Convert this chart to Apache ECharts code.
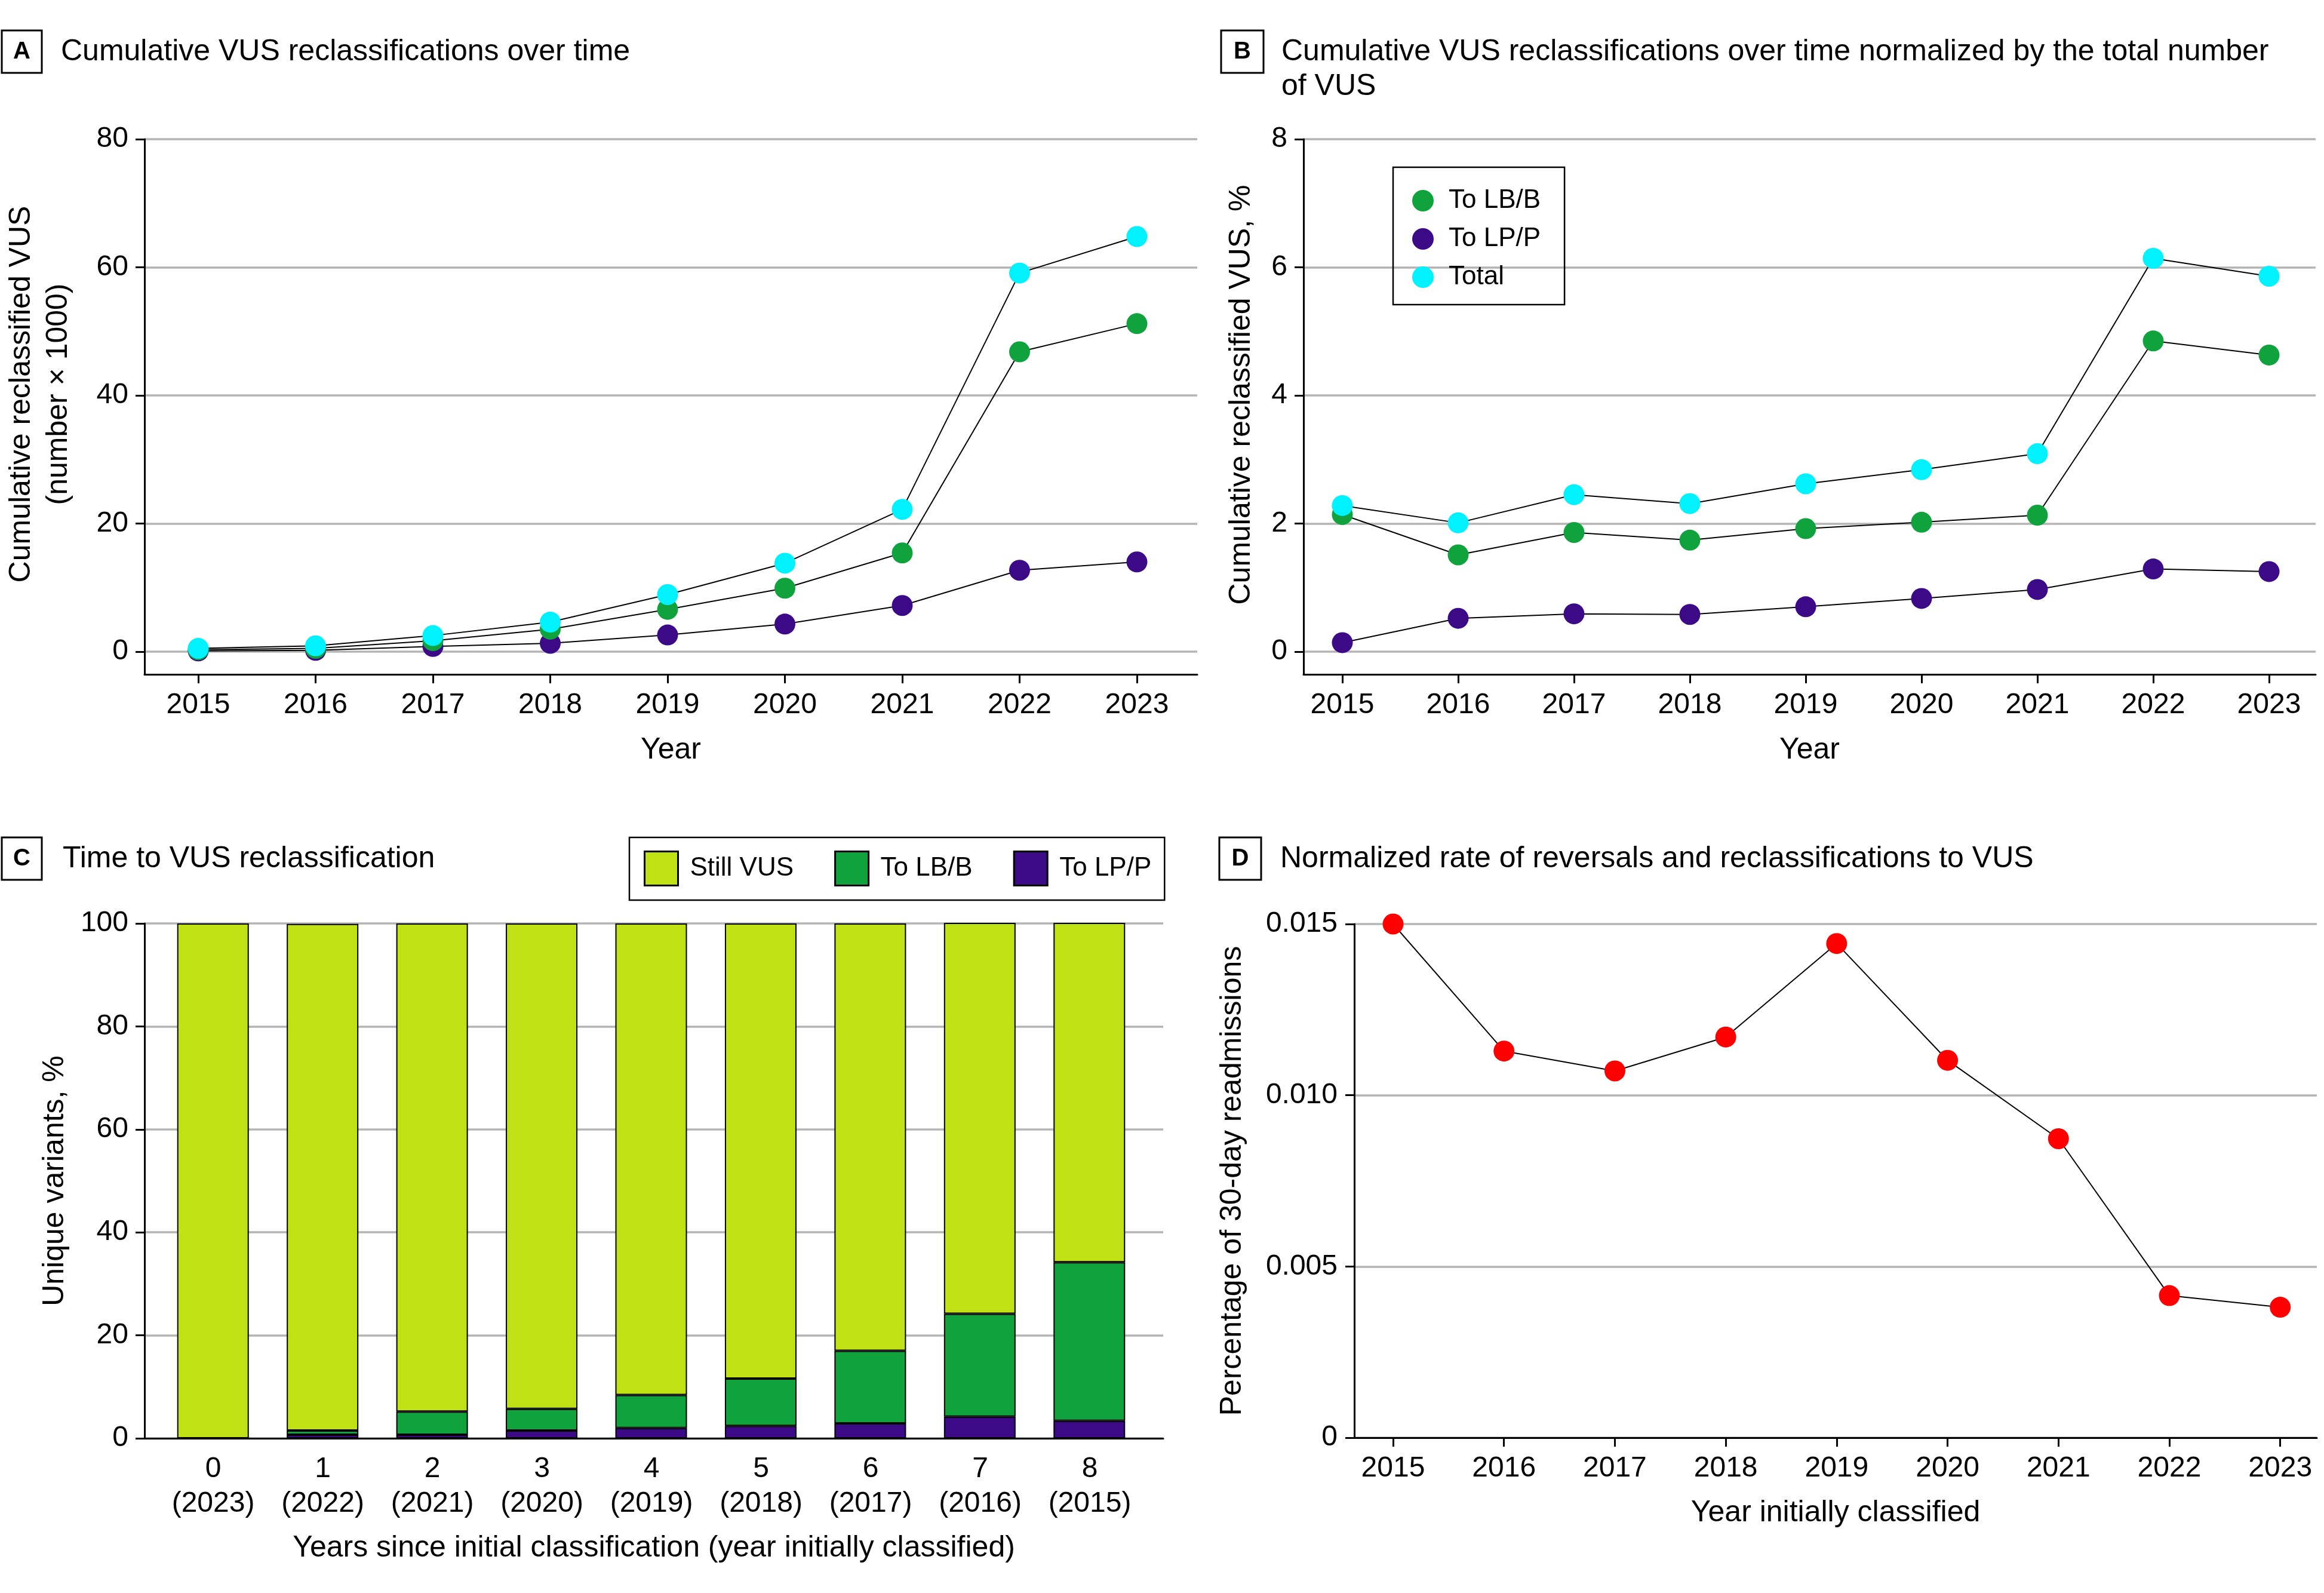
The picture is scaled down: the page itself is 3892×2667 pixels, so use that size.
<!DOCTYPE html>
<html>
<head>
<meta charset="utf-8">
<script src="https://cdn.jsdelivr.net/npm/echarts@6/dist/echarts.min.js"></script>
<style>
html,body{margin:0;padding:0;background:#fff;}
#c{width:3892px;height:2667px;}
</style>
</head>
<body>
<div id="c"></div>
<script>
// ---------- data ----------
const years = [2015, 2016, 2017, 2018, 2019, 2020, 2021, 2022, 2023];

// Panel A: cumulative reclassified VUS (number x 1000)
const cumToLB = [0.3, 0.5, 1.7, 3.5, 6.6, 9.9, 15.4, 46.8, 51.2];
const cumToLP = [0.1, 0.2, 0.8, 1.3, 2.6, 4.3, 7.2, 12.7, 14.0];
const cumTotal = [0.5, 0.9, 2.5, 4.6, 8.9, 13.8, 22.2, 59.1, 64.8];

// Panel B: normalized by total number of VUS (%)
const normToLB = [2.14, 1.51, 1.86, 1.74, 1.92, 2.02, 2.13, 4.85, 4.63];
const normToLP = [0.14, 0.52, 0.59, 0.58, 0.70, 0.83, 0.97, 1.29, 1.25];
const normTotal = [2.28, 2.01, 2.45, 2.31, 2.62, 2.84, 3.09, 6.14, 5.86];

// Panel C: time to VUS reclassification (%)
const yearsSince = [0, 1, 2, 3, 4, 5, 6, 7, 8];
const yearInitial = [2023, 2022, 2021, 2020, 2019, 2018, 2017, 2016, 2015];
const stillVUS = [100, 98.4, 94.8, 94.3, 91.6, 88.4, 83.0, 76.0, 66.0];
const barToLB = [0, 0.8, 4.5, 4.2, 6.4, 9.2, 14.1, 20.0, 30.8];
const barToLP = [0, 0.7, 0.7, 1.5, 2.0, 2.4, 2.9, 4.2, 3.4];

// Panel D: normalized rate of reversals and reclassifications to VUS
const reversalRate = [0.0150, 0.01129, 0.01071, 0.01170, 0.01443, 0.01102, 0.00873, 0.00415, 0.00381];

// tick labels
const yTicksA = [0, 20, 40, 60, 80];
const yTicksB = [0, 2, 4, 6, 8];

// ---------- style ----------
const FONT = "'Liberation Sans', Arial, sans-serif";
const C_LB = '#10a23c', C_LP = '#3c0a87', C_TOT = '#00f2ff', C_VUS = '#c0e114', C_RED = '#ff0000';
const GRID_COLOR = '#b4b4b4';

function txt(size, extra) {
  return Object.assign({ fontSize: size, fontFamily: FONT, color: '#000', fontWeight: 'normal' }, extra || {});
}
const axisLineStyle = { show: true, onZero: false, lineStyle: { color: '#000', width: 3 } };
const tickStyle = { length: 15, lineStyle: { color: '#000', width: 3 } };

function yearXAxis(gridIndex, min, max, name, nameGap) {
  return {
    type: 'value', gridIndex, min, max,
    axisLine: axisLineStyle,
    axisTick: Object.assign({ show: true, customValues: years }, tickStyle),
    axisLabel: { customValues: years, margin: 24, formatter: v => String(v), ...txt(48, { lineHeight: 56 }) },
    splitLine: { show: false },
    name, nameLocation: 'middle', nameGap, nameTextStyle: txt(50, { lineHeight: 60 })
  };
}
function valYAxis(gridIndex, opts) {
  return Object.assign({
    type: 'value', gridIndex,
    axisLine: axisLineStyle,
    axisTick: Object.assign({ show: true }, tickStyle),
    splitLine: { show: true, lineStyle: { color: GRID_COLOR, width: 3.5 } },
    nameLocation: 'middle', nameRotate: 90
  }, opts);
}
function lineSeries(name, xi, arr, color, z) {
  return {
    type: 'line', name, xAxisIndex: xi, yAxisIndex: xi,
    data: years.map((y, i) => [y, arr[i]]),
    symbol: 'circle', symbolSize: 35, showSymbol: true,
    itemStyle: { color },
    lineStyle: { color: '#000', width: 2 },
    z, emphasis: { disabled: true }
  };
}
function letterBox(letter, x, y, w, h) {
  return [
    { type: 'rect', shape: { x, y, width: w, height: h }, style: { fill: '#fff', stroke: '#000', lineWidth: 3 } },
    { type: 'text', x: x + w / 2, y: y + h / 2, style: { text: letter, fontSize: 40, fontWeight: 'bold', fontFamily: FONT, fill: '#000', align: 'center', verticalAlign: 'middle' } }
  ];
}

const option = {
  animation: false,
  backgroundColor: '#fff',
  title: [
    { text: 'Cumulative VUS reclassifications over time', left: 102, top: 58, padding: 0, textStyle: txt(50, { lineHeight: 58 }) },
    { text: 'Cumulative VUS reclassifications over time normalized by the total number\nof VUS', left: 2146, top: 58, padding: 0, textStyle: txt(50, { lineHeight: 58 }) },
    { text: 'Time to VUS reclassification', left: 105, top: 1409, padding: 0, textStyle: txt(50, { lineHeight: 58 }) },
    { text: 'Normalized rate of reversals and reclassifications to VUS', left: 2144, top: 1409, padding: 0, textStyle: txt(50, { lineHeight: 58 }) }
  ],
  graphic: [].concat(
    letterBox('A', 3, 51, 67, 71),
    letterBox('B', 2045, 51, 71, 71),
    letterBox('C', 3, 1402, 67, 71),
    letterBox('D', 2042, 1402, 70, 71)
  ),
  legend: [
    {
      orient: 'vertical', left: 2333, top: 280,
      padding: [34, 40, 24, 32], itemWidth: 36, itemHeight: 36, itemGap: 20,
      borderColor: '#000', borderWidth: 2.5,
      data: [{ name: 'To LB/B', icon: 'circle' }, { name: 'To LP/P', icon: 'circle' }, { name: 'Total', icon: 'circle' }],
      itemStyle: { borderWidth: 0 },
      textStyle: txt(44, { lineHeight: 44, padding: [0, 0, 0, 20] }),
      selectedMode: false
    },
    {
      orient: 'horizontal', left: 1054, top: 1402,
      padding: [22, 22, 23, 24], itemWidth: 56, itemHeight: 57, itemGap: 68,
      borderColor: '#000', borderWidth: 2.5,
      data: [{ name: 'Still VUS', icon: 'rect' }, { name: 'To LB/B', icon: 'rect' }, { name: 'To LP/P', icon: 'rect' }],
      itemStyle: { borderColor: '#000', borderWidth: 3 },
      textStyle: txt(44, { padding: [0, 0, 0, 15] }),
      selectedMode: false
    }
  ],
  grid: [
    { left: 242, top: 233, width: 1763, height: 896 },   // A
    { left: 2183, top: 233, width: 1695, height: 896 },  // B
    { left: 242, top: 1546, width: 1706, height: 862 },  // C (axes)
    { left: 2268, top: 1547, width: 1612, height: 860 }, // D
    { left: 265, top: 1546, width: 1651, height: 862 }   // C (bars)
  ],
  xAxis: [
    yearXAxis(0, 2014.542, 2023.514, 'Year', 97),
    yearXAxis(1, 2014.665, 2023.402, 'Year', 97),
    {
      type: 'value', gridIndex: 2, min: -0.627, max: 8.67,
      axisLine: axisLineStyle,
      axisTick: { show: false },
      axisLabel: {
        customValues: yearsSince, margin: 23,
        formatter: v => yearsSince[v] + '\n(' + yearInitial[v] + ')',
        ...txt(48, { lineHeight: 58 })
      },
      splitLine: { show: false },
      name: 'Years since initial classification (year initially classified)',
      nameLocation: 'middle', nameGap: 154, nameTextStyle: txt(50, { lineHeight: 60 })
    },
    yearXAxis(3, 2014.65, 2023.33, 'Year initially classified', 96),
    { type: 'category', gridIndex: 4, data: yearsSince.map(String), show: false }
  ],
  yAxis: [
    valYAxis(0, {
      min: -3.55, max: 80, splitNumber: 4,
      axisTick: Object.assign({ show: true, customValues: yTicksA }, tickStyle),
      axisLabel: { customValues: yTicksA, margin: 27, ...txt(48) },
      name: 'Cumulative reclassified VUS\n(number × 1000)', nameGap: 113,
      nameTextStyle: txt(50, { lineHeight: 62, padding: [0, 0, 0, 42] })
    }),
    valYAxis(1, {
      min: -0.355, max: 8, splitNumber: 4,
      axisTick: Object.assign({ show: true, customValues: yTicksB }, tickStyle),
      axisLabel: { customValues: yTicksB, margin: 27, ...txt(48) },
      name: 'Cumulative reclassified VUS, %', nameGap: 74,
      nameTextStyle: txt(50, { lineHeight: 60, padding: [0, 0, 0, 40] })
    }),
    valYAxis(2, {
      min: 0, max: 100, splitNumber: 5,
      axisLabel: { margin: 27, ...txt(48) },
      name: 'Unique variants, %', nameGap: 120,
      nameTextStyle: txt(50, { lineHeight: 60 })
    }),
    valYAxis(3, {
      min: 0, max: 0.015, splitNumber: 3,
      axisLabel: { margin: 28, formatter: v => (v === 0 ? '0' : v.toFixed(3)), ...txt(48) },
      name: 'Percentage of 30-day readmissions', nameGap: 174,
      nameTextStyle: txt(50, { lineHeight: 60 })
    }),
    { type: 'value', gridIndex: 4, min: 0, max: 100, show: false }
  ],
  series: [
    // A
    lineSeries('To LP/P', 0, cumToLP, C_LP, 3),
    lineSeries('To LB/B', 0, cumToLB, C_LB, 4),
    lineSeries('Total', 0, cumTotal, C_TOT, 5),
    // B
    lineSeries('To LP/P', 1, normToLP, C_LP, 3),
    lineSeries('To LB/B', 1, normToLB, C_LB, 4),
    lineSeries('Total', 1, normTotal, C_TOT, 5),
    // C
    { type: 'bar', name: 'To LP/P', xAxisIndex: 4, yAxisIndex: 4, stack: 'c', barWidth: 120, data: barToLP,
      itemStyle: { color: C_LP, borderColor: '#000', borderWidth: 2 }, emphasis: { disabled: true } },
    { type: 'bar', name: 'To LB/B', xAxisIndex: 4, yAxisIndex: 4, stack: 'c', barWidth: 120, data: barToLB,
      itemStyle: { color: C_LB, borderColor: '#000', borderWidth: 2 }, emphasis: { disabled: true } },
    { type: 'bar', name: 'Still VUS', xAxisIndex: 4, yAxisIndex: 4, stack: 'c', barWidth: 120, data: stillVUS,
      itemStyle: { color: C_VUS, borderColor: '#000', borderWidth: 2 }, emphasis: { disabled: true } },
    // D
    lineSeries('Reversals', 3, reversalRate, C_RED, 5)
  ]
};

const chart = echarts.init(document.getElementById('c'), null, { renderer: 'canvas' });
chart.setOption(option);
</script>
</body>
</html>
